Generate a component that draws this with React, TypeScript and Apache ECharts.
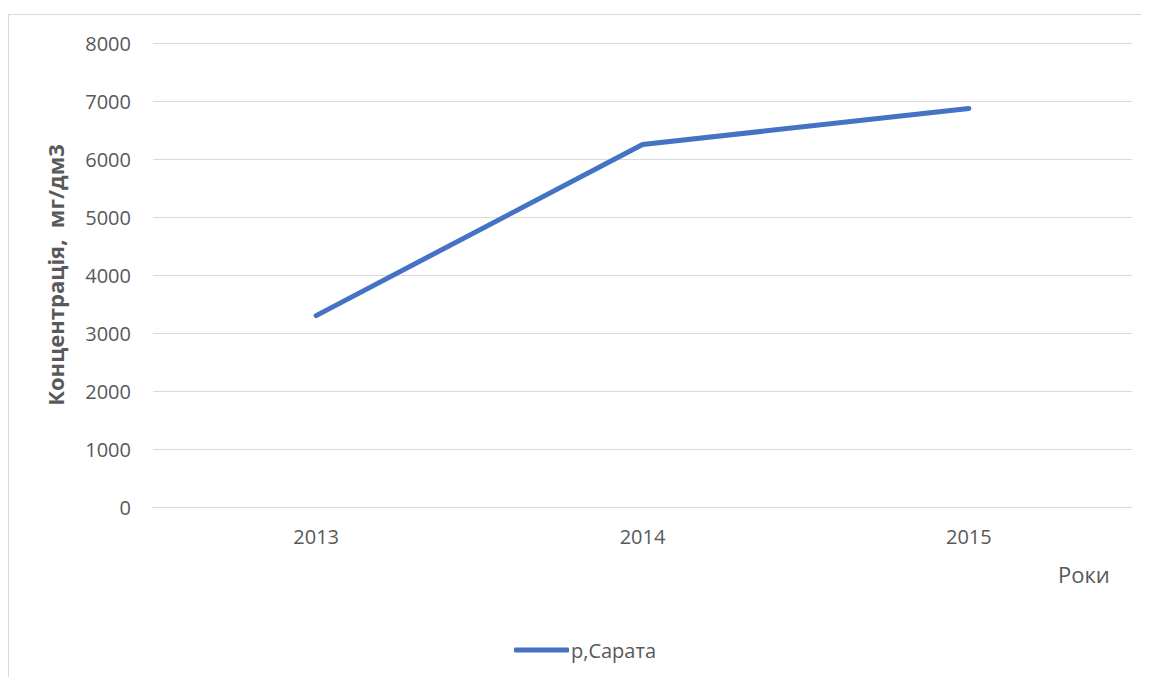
import React, { useEffect, useRef } from "react";
import * as echarts from "echarts";

const years = ["2013", "2014", "2015"];
const sarata = [3300, 6250, 6870];
const seriesName = "р,Сарата";
const yAxisTitle = "Концентрація,  мг/дм3";
const xAxisTitle = "Роки";
const yTicks = { min: 0, max: 8000, interval: 1000 };

export default function App() {
  const ref = useRef<HTMLDivElement>(null);
  useEffect(() => {
    const chart = echarts.init(ref.current!, null, { renderer: "svg" });
    const font = "'Open Sans', 'Noto Sans', sans-serif";
    chart.setOption({
      animation: false,
      backgroundColor: "#ffffff",
      textStyle: { fontFamily: font },
      grid: { left: 145, top: 35, right: 17, bottom: 170, containLabel: false },
      xAxis: {
        type: "category",
        data: years,
        boundaryGap: true,
        axisLine: { show: true, lineStyle: { color: "#d9d9d9", width: 1 } },
        axisTick: { show: false },
        axisLabel: { color: "#595959", fontSize: 20, margin: 19, fontFamily: font },
        splitLine: { show: false },
      },
      yAxis: {
        type: "value",
        min: yTicks.min,
        max: yTicks.max,
        interval: yTicks.interval,
        axisLine: { show: false },
        axisTick: { show: false },
        axisLabel: {
          color: "#595959",
          fontSize: 20,
          margin: 22,
          fontFamily: font,
          formatter: (v: number) => String(v),
        },
        splitLine: { lineStyle: { color: "#d9d9d9", width: 1 } },
        name: yAxisTitle,
        nameLocation: "middle",
        nameRotate: 90,
        nameGap: 87,
        nameTextStyle: { color: "#595959", fontSize: 22, fontWeight: "bold", fontFamily: font },
      },
      legend: {
        show: true,
        bottom: 12,
        left: 501,
        itemWidth: 55,
        itemHeight: 5,
        itemGap: 4,
        icon: "roundRect",
        textStyle: { color: "#595959", fontSize: 20, fontFamily: font, padding: [0, 0, 0, -3] },
        data: [seriesName],
      },
      graphic: [
        {
          type: "rect",
          shape: { x: 0.5, y: 6.5, width: 1200, height: 700 },
          style: { fill: "none", stroke: "#d9d9d9", lineWidth: 1 },
          silent: true,
        },
        {
          type: "text",
          left: 1050,
          top: 555,
          style: { text: xAxisTitle, fill: "#595959", fontSize: 22, fontFamily: font },
        },
      ],
      series: [
        {
          name: seriesName,
          type: "line",
          data: sarata,
          symbol: "none",
          lineStyle: { color: "#4472c4", width: 5, cap: "round", join: "round" },
          itemStyle: { color: "#4472c4" },
        },
      ],
    });
    return () => chart.dispose();
  }, []);
  return <div ref={ref} style={{ width: 1141, height: 669 }} />;
}
